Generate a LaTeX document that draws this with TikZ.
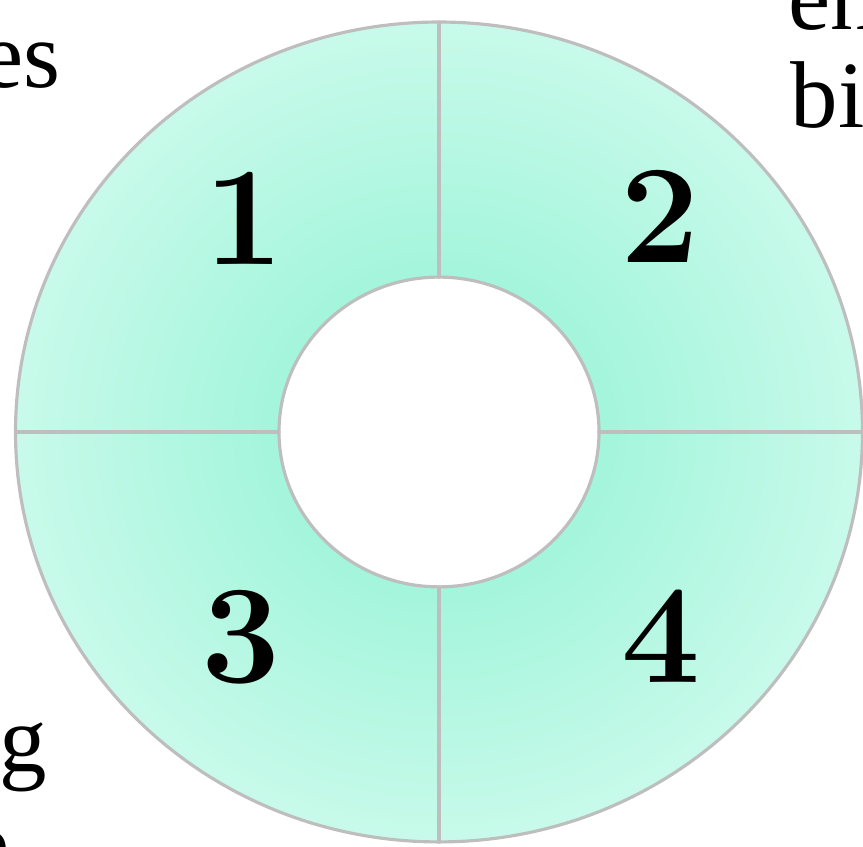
\documentclass[tikz,border=0pt]{standalone}
\usepackage{xcolor}
\usepackage{fontspec}
\usepackage{tikz}

\newfontfamily\serifo{Liberation Serif}

\definecolor{verdein}{HTML}{A3F5DB}
\definecolor{verdeout}{HTML}{C8FAEA}
\definecolor{bordo}{HTML}{BEBEBE}

\pgfdeclareradialshading{anello}{\pgfpoint{0cm}{0cm}}{%
  color(0bp)=(verdein); color(9.5bp)=(verdein); color(25bp)=(verdeout); color(50bp)=(verdeout)}

\begin{document}
\begin{tikzpicture}[line cap=round, line join=round,
    testo/.style={font=\serifo\fontsize{27}{32}\selectfont, inner sep=0pt},
    cifra/.style={font=\fontsize{40}{48}\selectfont\bfseries, inner sep=0pt}]

% Cornice
\useasboundingbox (0,0) rectangle (8.63,8.47);

% Raggi
\def\R{4.235}
\def\r{1.60}

% Anello
\begin{scope}[shift={(4.39,4.15)}, yscale=0.968]
  \coordinate (c) at (0,0);
  \shade[shading=anello] (c) circle (\R);
  \fill[white] (c) circle (\r);
  \draw[bordo, line width=0.9pt] (c) circle (\R);
  \draw[bordo, line width=0.9pt] (c) circle (\r);
  % Divisioni
  \foreach \a in {0,90,180,270}
    \draw[bordo, line width=0.9pt] (\a:\r) -- (\a:\R);
\end{scope}

% Settori
\node[cifra] (s1) at (2.44,6.29) {1};
\node[cifra] (s2) at (6.60,6.31) {2};
\node[cifra] (s3) at (2.41,2.10) {3};
\node[cifra] (s4) at (6.61,2.11) {4};

% Testi ai bordi
\node[testo, anchor=base east] (tes) at (0.61,7.59) {es};
\node[testo, anchor=base west] (ten) at (7.88,8.17) {en};
\node[testo, anchor=base west] (tbin) at (7.90,7.19) {bin};
\node[testo, anchor=base east] (tng) at (0.48,0.75) {ng};
\node[testo, anchor=base east] (te) at (0.10,-0.30) {e};

\end{tikzpicture}
\end{document}
